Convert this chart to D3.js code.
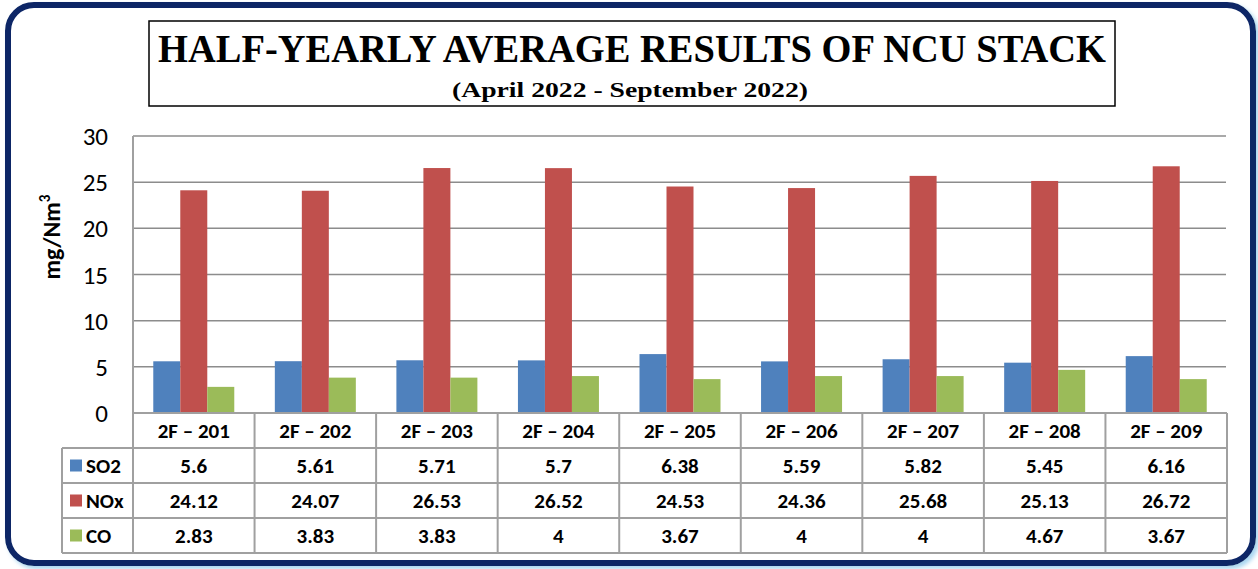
<!DOCTYPE html>
<html>
<head>
  <title>NCU Stack</title>
  <script src="https://d3js.org/d3.v7.min.js"></script>
  <style>
    body { margin: 0; background: #fff; }
    .num { font-family: Carlito, Lato, "Open Sans", sans-serif; }
    .grid line { stroke: #8c8c8c; stroke-width: 1.5; }
    .tbl line { stroke: #a0a0a0; stroke-width: 2; }
  </style>
</head>
<body>
  <script>
    var categories = ["2F \u2013 201", "2F \u2013 202", "2F \u2013 203", "2F \u2013 204", "2F \u2013 205",
                      "2F \u2013 206", "2F \u2013 207", "2F \u2013 208", "2F \u2013 209"];
    var seriesNames = ["SO2", "NOx", "CO"];
    var seriesColors = ["#4f81bd", "#c0504d", "#9bbb59"];
    var so2 = [5.6, 5.61, 5.71, 5.7, 6.38, 5.59, 5.82, 5.45, 6.16];
    var nox = [24.12, 24.07, 26.53, 26.52, 24.53, 24.36, 25.68, 25.13, 26.72];
    var co  = [2.83, 3.83, 3.83, 4, 3.67, 4, 4, 4.67, 3.67];
    var yTicks = [0, 5, 10, 15, 20, 25, 30];

    var series = [so2, nox, co];
    var W = 1258, H = 569;

    var svg = d3.select("body").append("svg")
        .attr("width", W)
        .attr("height", H);

    // outer rounded frame with a light blue shadow
    var defs = svg.append("defs");
    var f = defs.append("filter").attr("id", "glow")
        .attr("x", "-5%").attr("y", "-5%").attr("width", "110%").attr("height", "110%");
    f.append("feDropShadow").attr("dx", 3).attr("dy", 3).attr("stdDeviation", 2)
        .attr("flood-color", "#9fd0ee").attr("flood-opacity", 0.9);

    svg.append("rect")
        .attr("x", 8).attr("y", 5)
        .attr("width", 1245).attr("height", 558)
        .attr("rx", 26).attr("ry", 26)
        .attr("fill", "#fff")
        .attr("stroke", "#0b2566")
        .attr("stroke-width", 6)
        .attr("filter", "url(#glow)");

    // title box
    svg.append("rect")
        .attr("x", 149).attr("y", 21)
        .attr("width", 966).attr("height", 85)
        .attr("fill", "none").attr("stroke", "#000").attr("stroke-width", 1.5);

    svg.append("text")
        .attr("x", 632).attr("y", 62)
        .attr("text-anchor", "middle")
        .attr("font-family", "'Liberation Serif', 'DejaVu Serif', serif")
        .attr("font-weight", "bold")
        .attr("font-size", 40)
        .attr("textLength", 948)
        .attr("lengthAdjust", "spacingAndGlyphs")
        .text("HALF-YEARLY AVERAGE RESULTS OF NCU STACK");

    svg.append("text")
        .attr("x", 630).attr("y", 97)
        .attr("text-anchor", "middle")
        .attr("font-family", "'Liberation Serif', 'DejaVu Serif', serif")
        .attr("font-weight", "bold")
        .attr("font-size", 22)
        .attr("textLength", 356)
        .attr("lengthAdjust", "spacingAndGlyphs")
        .text("(April 2022 - September 2022)");

    // plot area
    var plotL = 133, plotR = 1227, plotT = 136, plotB = 413;
    var rowH = 35;

    var x = d3.scaleBand().domain(categories).range([plotL, plotR]);
    var xs = d3.scaleBand().domain(seriesNames).range([0, 81]);
    var y = d3.scaleLinear().domain([0, 30]).range([plotB, plotT]);

    var grid = svg.append("g").attr("class", "grid");
    grid.selectAll("line")
        .data(yTicks.filter(function(d) { return d > 0; }))
        .enter().append("line")
        .attr("x1", plotL).attr("x2", plotR - 1)
        .attr("y1", function(d) { return y(d); })
        .attr("y2", function(d) { return y(d); });

    svg.append("g")
        .attr("transform", "translate(" + (plotL - 25) + ",0)")
        .call(d3.axisLeft(y).tickValues(yTicks).tickSize(0).tickPadding(0))
        .call(function(g) { g.select(".domain").remove(); })
        .selectAll("text")
        .attr("class", "num")
        .attr("font-size", 25)
        .attr("fill", "#000")
        .attr("dy", "0.34em");

    svg.append("text")
        .attr("transform", "translate(60,237) rotate(-90)")
        .attr("text-anchor", "middle")
        .attr("class", "num")
        .attr("font-weight", "bold")
        .attr("font-size", 24)
        .text("mg/Nm")
        .append("tspan")
        .attr("dy", -10)
        .attr("font-size", 15)
        .text("3");

    // bars
    var groups = svg.append("g").selectAll("g")
        .data(series)
        .enter().append("g")
        .attr("fill", function(d, i) { return seriesColors[i]; });

    groups.each(function(vals, si) {
        d3.select(this).selectAll("rect")
            .data(vals)
            .enter().append("rect")
            .attr("x", function(d, i) {
                return x(categories[i]) + (x.bandwidth() - 81) / 2 + xs(seriesNames[si]);
            })
            .attr("y", function(d) { return y(d); })
            .attr("width", xs.bandwidth())
            .attr("height", function(d) { return plotB - y(d); });
    });

    // data table
    var tbl = svg.append("g").attr("class", "tbl");
    var legL = 62;
    var tblBottom = plotB + rowH * 4;

    // left axis line through the plot and the header row
    tbl.append("line").attr("x1", plotL).attr("x2", plotL).attr("y1", plotT).attr("y2", tblBottom);
    tbl.append("line").attr("x1", plotL).attr("x2", plotR).attr("y1", plotB).attr("y2", plotB);
    [1, 2, 3, 4].forEach(function(r) {
        tbl.append("line").attr("x1", legL).attr("x2", plotR)
            .attr("y1", plotB + rowH * r).attr("y2", plotB + rowH * r);
    });
    tbl.append("line").attr("x1", legL).attr("x2", legL).attr("y1", plotB + rowH).attr("y2", tblBottom);
    categories.forEach(function(c) {
        var xr = x(c) + x.bandwidth();
        tbl.append("line").attr("x1", xr).attr("x2", xr).attr("y1", plotB).attr("y2", tblBottom);
    });

    // header texts
    svg.append("g").selectAll("text")
        .data(categories)
        .enter().append("text")
        .attr("class", "num")
        .attr("x", function(d) { return x(d) + x.bandwidth() / 2; })
        .attr("y", plotB + rowH / 2)
        .attr("dy", "0.34em")
        .attr("text-anchor", "middle")
        .attr("font-weight", "bold")
        .attr("font-size", 21)
        .text(function(d) { return d; });

    // legend + value rows
    series.forEach(function(vals, si) {
        var cy = plotB + rowH * (si + 1) + rowH / 2;
        svg.append("rect")
            .attr("x", 70).attr("y", cy - 6)
            .attr("width", 12).attr("height", 12)
            .attr("fill", seriesColors[si]);
        svg.append("text")
            .attr("class", "num")
            .attr("x", 86).attr("y", cy).attr("dy", "0.34em")
            .attr("font-weight", "bold").attr("font-size", 21)
            .text(seriesNames[si]);
        svg.append("g").selectAll("text")
            .data(vals)
            .enter().append("text")
            .attr("class", "num")
            .attr("x", function(d, i) { return x(categories[i]) + x.bandwidth() / 2; })
            .attr("y", cy).attr("dy", "0.34em")
            .attr("text-anchor", "middle")
            .attr("font-weight", "bold").attr("font-size", 21)
            .text(function(d) { return d; });
    });
  </script>
</body>
</html>
